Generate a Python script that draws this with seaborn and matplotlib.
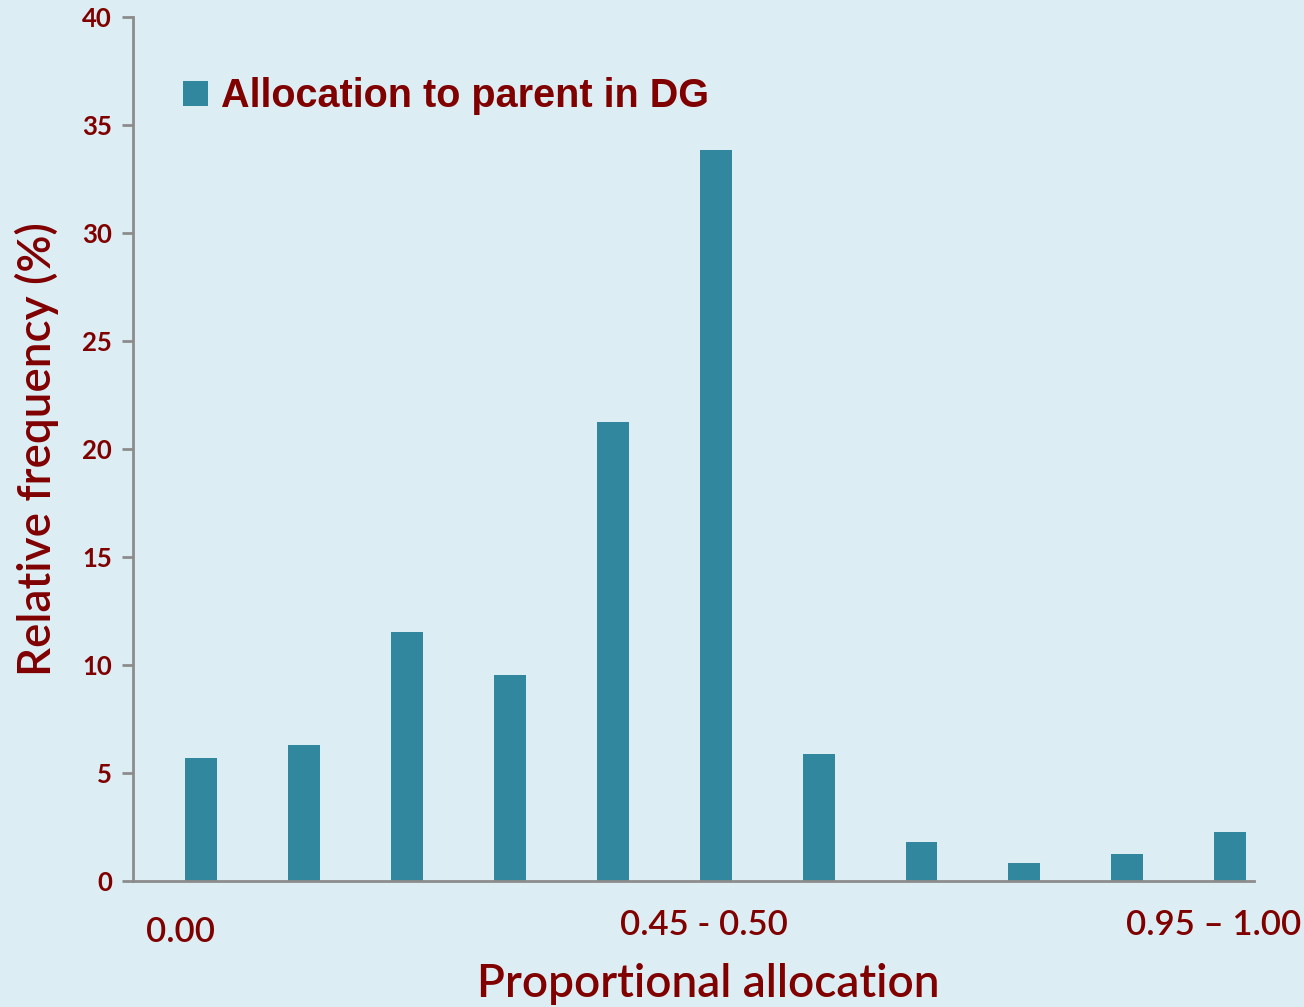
import matplotlib
matplotlib.use("Agg")
import matplotlib.pyplot as plt
import matplotlib.transforms as mtransforms
import seaborn as sns
import pandas as pd

categories = ["0.00", "0.05 - 0.10", "0.15 - 0.20", "0.25 - 0.30", "0.35 - 0.40",
              "0.45 - 0.50", "0.55 - 0.60", "0.65 - 0.70", "0.75 - 0.80",
              "0.85 - 0.90", "0.95 \u2013 1.00"]
frequency = [5.7, 6.3, 11.55, 9.55, 21.25, 33.85, 5.9, 1.8, 0.85, 1.25, 2.25]
shown_ticks = [0, 5, 10]
tick_labels = ["0.00", "0.45 - 0.50", "0.95 \u2013 1.00"]
series_name = "Allocation to parent in DG"
yticks = [0, 5, 10, 15, 20, 25, 30, 35, 40]

BG = "#dceef4"
BAR = "#31879e"
TXT = "#800000"
AX = "#8c8c8c"

sns.set_theme(style="white")
plt.rcParams["font.family"] = ["Lato", "DejaVu Sans"]

df = pd.DataFrame({"cat": categories, "freq": frequency, "series": series_name})

fig = plt.figure(figsize=(13.04, 10.07), dpi=100, facecolor=BG)
ax = fig.add_axes([133/1304, 1-881/1007, (1254-133)/1304, (881-17)/1007])
ax.set_facecolor(BG)

sns.barplot(data=df, x="cat", y="freq", hue="series", palette=[BAR],
            width=0.31, ax=ax, saturation=1, edgecolor="none")

ax.set_xlim(-0.66, 10.23)
ax.set_ylim(0, 40)
ax.set_yticks(yticks)
ax.set_yticklabels([str(v) for v in yticks])
ax.set_xticks(shown_ticks)
ax.set_xticklabels(tick_labels)

for s in ["top", "right"]:
    ax.spines[s].set_visible(False)
for s in ["left", "bottom"]:
    ax.spines[s].set_color(AX)
    ax.spines[s].set_linewidth(2)

ax.tick_params(axis="y", which="major", direction="out", length=8, width=2,
               color=AX, labelsize=18.5, labelcolor=TXT, pad=7, left=True)
ax.tick_params(axis="x", length=0, labelsize=25, labelcolor=TXT, pad=20)
for lab in ax.get_yticklabels():
    lab.set_fontweight("bold")

offsets = [(-20, -7), (-12, 0), (-17, 0)]
for lab, (dx, dy) in zip(ax.get_xticklabels(), offsets):
    lab.set_transform(lab.get_transform() +
                      mtransforms.ScaledTranslation(dx/100, dy/100, fig.dpi_scale_trans))
    lab.set_fontweight("semibold")

ax.set_ylabel("Relative frequency (%)", fontsize=33, color=TXT, fontweight="semibold")
ax.yaxis.set_label_coords(-0.066, 0.5)
ax.set_xlabel("Proportional allocation", fontsize=33, color=TXT, fontweight="semibold")
ax.xaxis.set_label_coords(0.513, -0.095)
ax.xaxis.label.set_verticalalignment("top")

leg = ax.legend(loc="upper left", bbox_to_anchor=(0.0446, 0.930), frameon=False,
                borderpad=0, borderaxespad=0,
                handlelength=0.62, handleheight=0.62, handletextpad=0.35,
                prop={"family": ["Liberation Sans Narrow", "Liberation Sans", "DejaVu Sans"],
                      "weight": "bold", "size": 28.5})
for t in leg.get_texts():
    t.set_color(TXT)

fig.savefig("out.png", dpi=100, facecolor=BG)
